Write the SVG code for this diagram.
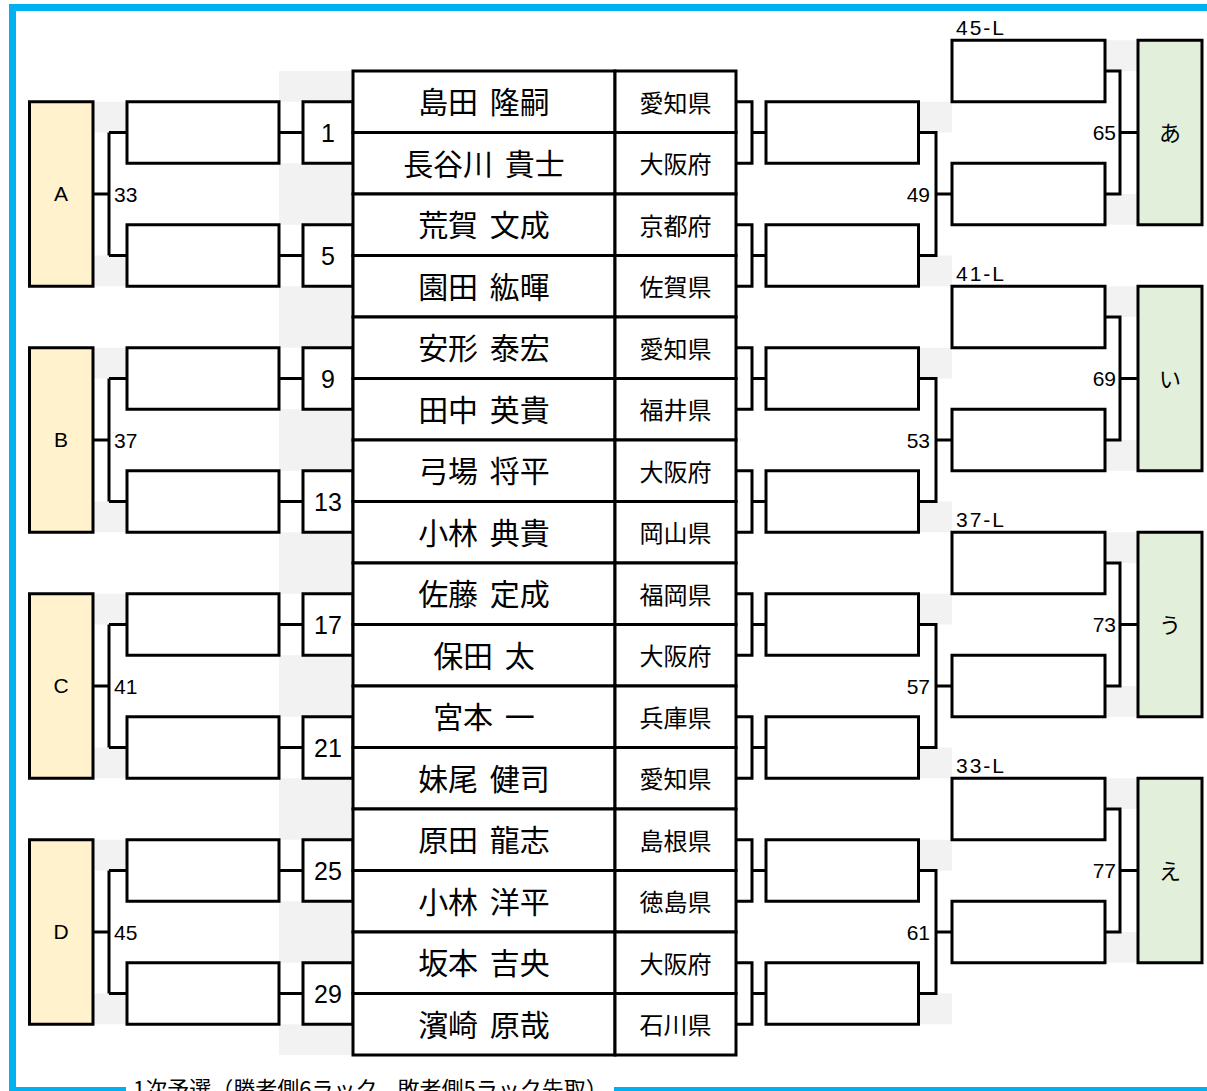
<svg xmlns="http://www.w3.org/2000/svg" width="1207" height="1091" viewBox="0 0 1207 1091">
<style>
.b{fill:#fff;stroke:#000;stroke-width:3}
.y{fill:#FFF2CC;stroke:#000;stroke-width:3}
.gr{fill:#E2EFDA;stroke:#000;stroke-width:3}
.sh{fill:#F2F2F2}
.c{fill:none;stroke:#000;stroke-width:3}
.blue{fill:#00B0F0}
.lat{font-family:"Liberation Sans",Arial,sans-serif;fill:#000}
.s{font-size:21px}
.ls{letter-spacing:2px}
.n{font-size:25px;text-anchor:middle}
.m{text-anchor:middle}
.e{text-anchor:end}
.jp{font-family:"Noto Sans CJK JP","Noto Sans",sans-serif;fill:#000}
.nm{font-size:30px;text-anchor:middle;word-spacing:5px}
.pf{font-size:24px;text-anchor:middle}
.kana{font-size:22px;text-anchor:middle}
.title{font-size:22px}
</style>
<rect x="0" y="0" width="1207" height="1091" fill="#fff"/>
<g id="shading">
<rect class="sh" x="279" y="71" width="74" height="30.75"/>
<rect class="sh" x="279" y="163.25" width="74" height="61.5"/>
<rect class="sh" x="279" y="286.25" width="74" height="61.5"/>
<rect class="sh" x="279" y="409.25" width="74" height="61.5"/>
<rect class="sh" x="279" y="532.25" width="74" height="61.5"/>
<rect class="sh" x="279" y="655.25" width="74" height="61.5"/>
<rect class="sh" x="279" y="778.25" width="74" height="61.5"/>
<rect class="sh" x="279" y="901.25" width="74" height="61.5"/>
<rect class="sh" x="279" y="1024.25" width="74" height="30.75"/>
<g id="shade-l0"><rect class="sh" x="93" y="101.75" width="34" height="30.75"/><rect class="sh" x="93" y="255.5" width="34" height="30.75"/><rect class="sh" x="918.5" y="101.75" width="33.5" height="30.75"/><rect class="sh" x="918.5" y="255.5" width="33.5" height="30.75"/><rect class="sh" x="1105" y="40.25" width="33" height="30.75"/><rect class="sh" x="1105" y="194" width="33" height="30.75"/></g>
<use href="#shade-l0" transform="translate(0,246)"/>
<use href="#shade-l0" transform="translate(0,492)"/>
<use href="#shade-l0" transform="translate(0,738)"/>
</g>
<g id="frame">
<rect class="blue" x="9" y="4" width="1198" height="7"/>
<rect class="blue" x="9" y="4" width="7" height="1087"/>
<rect class="blue" x="9" y="1087" width="117" height="4"/>
<rect class="blue" x="614" y="1087" width="593" height="4"/>
<text class="jp title" x="133" y="1097">1次予選（勝者側6ラック、敗者側5ラック先取）</text>
</g>
<g id="connectors">
<g id="conn-l0"><path class="c" d="M93,194H109M109,132.5V255.5M109,132.5H127M109,255.5H127M279,132.5H303M279,255.5H303"/><path class="c" d="M918.5,132.5H936V255.5H918.5M936,194H952M1105,71H1120V194H1105M1120,132.5H1138"/></g>
<use href="#conn-l0" transform="translate(0,246)"/>
<use href="#conn-l0" transform="translate(0,492)"/>
<use href="#conn-l0" transform="translate(0,738)"/>
<g id="br0"><path class="c" d="M736,101.75H752V163.25H736M752,132.5H766"/></g>
<use href="#br0" transform="translate(0,123)"/>
<use href="#br0" transform="translate(0,246)"/>
<use href="#br0" transform="translate(0,369)"/>
<use href="#br0" transform="translate(0,492)"/>
<use href="#br0" transform="translate(0,615)"/>
<use href="#br0" transform="translate(0,738)"/>
<use href="#br0" transform="translate(0,861)"/>
</g>
<g id="group-A"><rect class="y" x="29.5" y="101.75" width="63.5" height="184.5"/><text class="lat s m" x="61" y="201">A</text><text class="lat s" x="114" y="201.5">33</text></g>
<g id="group-B" transform="translate(0,246)"><rect class="y" x="29.5" y="101.75" width="63.5" height="184.5"/><text class="lat s m" x="61" y="201">B</text><text class="lat s" x="114" y="201.5">37</text></g>
<g id="group-C" transform="translate(0,492)"><rect class="y" x="29.5" y="101.75" width="63.5" height="184.5"/><text class="lat s m" x="61" y="201">C</text><text class="lat s" x="114" y="201.5">41</text></g>
<g id="group-D" transform="translate(0,738)"><rect class="y" x="29.5" y="101.75" width="63.5" height="184.5"/><text class="lat s m" x="61" y="201">D</text><text class="lat s" x="114" y="201.5">45</text></g>
<g id="left-slots">
<g id="ls0"><rect class="b" x="127" y="101.75" width="152" height="61.5"/><rect class="b" x="127" y="224.75" width="152" height="61.5"/></g>
<use href="#ls0" transform="translate(0,246)"/>
<use href="#ls0" transform="translate(0,492)"/>
<use href="#ls0" transform="translate(0,738)"/>
</g>
<g id="m1"><rect class="b" x="303" y="101.75" width="50" height="61.5"/><text class="lat n" x="328" y="141.5">1</text></g>
<g id="m5"><rect class="b" x="303" y="224.75" width="50" height="61.5"/><text class="lat n" x="328" y="264.5">5</text></g>
<g id="m9"><rect class="b" x="303" y="347.75" width="50" height="61.5"/><text class="lat n" x="328" y="387.5">9</text></g>
<g id="m13"><rect class="b" x="303" y="470.75" width="50" height="61.5"/><text class="lat n" x="328" y="510.5">13</text></g>
<g id="m17"><rect class="b" x="303" y="593.75" width="50" height="61.5"/><text class="lat n" x="328" y="633.5">17</text></g>
<g id="m21"><rect class="b" x="303" y="716.75" width="50" height="61.5"/><text class="lat n" x="328" y="756.5">21</text></g>
<g id="m25"><rect class="b" x="303" y="839.75" width="50" height="61.5"/><text class="lat n" x="328" y="879.5">25</text></g>
<g id="m29"><rect class="b" x="303" y="962.75" width="50" height="61.5"/><text class="lat n" x="328" y="1002.5">29</text></g>
<g id="table">
<g id="p1"><rect class="b" x="353" y="71" width="262" height="61.5"/><rect class="b" x="615" y="71" width="121" height="61.5"/><text class="jp nm" x="484" y="113.25">島田 隆嗣</text><text class="jp pf" x="675.5" y="111.75">愛知県</text></g>
<g id="p2"><rect class="b" x="353" y="132.5" width="262" height="61.5"/><rect class="b" x="615" y="132.5" width="121" height="61.5"/><text class="jp nm" x="484" y="174.75">長谷川 貴士</text><text class="jp pf" x="675.5" y="173.25">大阪府</text></g>
<g id="p3"><rect class="b" x="353" y="194" width="262" height="61.5"/><rect class="b" x="615" y="194" width="121" height="61.5"/><text class="jp nm" x="484" y="236.25">荒賀 文成</text><text class="jp pf" x="675.5" y="234.75">京都府</text></g>
<g id="p4"><rect class="b" x="353" y="255.5" width="262" height="61.5"/><rect class="b" x="615" y="255.5" width="121" height="61.5"/><text class="jp nm" x="484" y="297.75">園田 紘暉</text><text class="jp pf" x="675.5" y="296.25">佐賀県</text></g>
<g id="p5"><rect class="b" x="353" y="317" width="262" height="61.5"/><rect class="b" x="615" y="317" width="121" height="61.5"/><text class="jp nm" x="484" y="359.25">安形 泰宏</text><text class="jp pf" x="675.5" y="357.75">愛知県</text></g>
<g id="p6"><rect class="b" x="353" y="378.5" width="262" height="61.5"/><rect class="b" x="615" y="378.5" width="121" height="61.5"/><text class="jp nm" x="484" y="420.75">田中 英貴</text><text class="jp pf" x="675.5" y="419.25">福井県</text></g>
<g id="p7"><rect class="b" x="353" y="440" width="262" height="61.5"/><rect class="b" x="615" y="440" width="121" height="61.5"/><text class="jp nm" x="484" y="482.25">弓場 将平</text><text class="jp pf" x="675.5" y="480.75">大阪府</text></g>
<g id="p8"><rect class="b" x="353" y="501.5" width="262" height="61.5"/><rect class="b" x="615" y="501.5" width="121" height="61.5"/><text class="jp nm" x="484" y="543.75">小林 典貴</text><text class="jp pf" x="675.5" y="542.25">岡山県</text></g>
<g id="p9"><rect class="b" x="353" y="563" width="262" height="61.5"/><rect class="b" x="615" y="563" width="121" height="61.5"/><text class="jp nm" x="484" y="605.25">佐藤 定成</text><text class="jp pf" x="675.5" y="603.75">福岡県</text></g>
<g id="p10"><rect class="b" x="353" y="624.5" width="262" height="61.5"/><rect class="b" x="615" y="624.5" width="121" height="61.5"/><text class="jp nm" x="484" y="666.75">保田 太</text><text class="jp pf" x="675.5" y="665.25">大阪府</text></g>
<g id="p11"><rect class="b" x="353" y="686" width="262" height="61.5"/><rect class="b" x="615" y="686" width="121" height="61.5"/><text class="jp nm" x="484" y="728.25">宮本 一</text><text class="jp pf" x="675.5" y="726.75">兵庫県</text></g>
<g id="p12"><rect class="b" x="353" y="747.5" width="262" height="61.5"/><rect class="b" x="615" y="747.5" width="121" height="61.5"/><text class="jp nm" x="484" y="789.75">妹尾 健司</text><text class="jp pf" x="675.5" y="788.25">愛知県</text></g>
<g id="p13"><rect class="b" x="353" y="809" width="262" height="61.5"/><rect class="b" x="615" y="809" width="121" height="61.5"/><text class="jp nm" x="484" y="851.25">原田 龍志</text><text class="jp pf" x="675.5" y="849.75">島根県</text></g>
<g id="p14"><rect class="b" x="353" y="870.5" width="262" height="61.5"/><rect class="b" x="615" y="870.5" width="121" height="61.5"/><text class="jp nm" x="484" y="912.75">小林 洋平</text><text class="jp pf" x="675.5" y="911.25">徳島県</text></g>
<g id="p15"><rect class="b" x="353" y="932" width="262" height="61.5"/><rect class="b" x="615" y="932" width="121" height="61.5"/><text class="jp nm" x="484" y="974.25">坂本 吉央</text><text class="jp pf" x="675.5" y="972.75">大阪府</text></g>
<g id="p16"><rect class="b" x="353" y="993.5" width="262" height="61.5"/><rect class="b" x="615" y="993.5" width="121" height="61.5"/><text class="jp nm" x="484" y="1035.75">濱崎 原哉</text><text class="jp pf" x="675.5" y="1034.25">石川県</text></g>
</g>
<g id="right-1" transform="translate(0,0)"><rect class="b" x="766" y="101.75" width="152.5" height="61.5"/><rect class="b" x="766" y="224.75" width="152.5" height="61.5"/><text class="lat s e" x="930" y="201.5">49</text><rect class="b" x="952" y="40.25" width="153" height="61.5"/><rect class="b" x="952" y="163.25" width="153" height="61.5"/><text class="lat s e" x="1116" y="140">65</text><text class="lat s ls" x="956" y="35">45-L</text><rect class="gr" x="1138" y="40.25" width="64" height="184.5"/><text class="jp kana" x="1170" y="141">あ</text></g>
<g id="right-2" transform="translate(0,246)"><rect class="b" x="766" y="101.75" width="152.5" height="61.5"/><rect class="b" x="766" y="224.75" width="152.5" height="61.5"/><text class="lat s e" x="930" y="201.5">53</text><rect class="b" x="952" y="40.25" width="153" height="61.5"/><rect class="b" x="952" y="163.25" width="153" height="61.5"/><text class="lat s e" x="1116" y="140">69</text><text class="lat s ls" x="956" y="35">41-L</text><rect class="gr" x="1138" y="40.25" width="64" height="184.5"/><text class="jp kana" x="1170" y="141">い</text></g>
<g id="right-3" transform="translate(0,492)"><rect class="b" x="766" y="101.75" width="152.5" height="61.5"/><rect class="b" x="766" y="224.75" width="152.5" height="61.5"/><text class="lat s e" x="930" y="201.5">57</text><rect class="b" x="952" y="40.25" width="153" height="61.5"/><rect class="b" x="952" y="163.25" width="153" height="61.5"/><text class="lat s e" x="1116" y="140">73</text><text class="lat s ls" x="956" y="35">37-L</text><rect class="gr" x="1138" y="40.25" width="64" height="184.5"/><text class="jp kana" x="1170" y="141">う</text></g>
<g id="right-4" transform="translate(0,738)"><rect class="b" x="766" y="101.75" width="152.5" height="61.5"/><rect class="b" x="766" y="224.75" width="152.5" height="61.5"/><text class="lat s e" x="930" y="201.5">61</text><rect class="b" x="952" y="40.25" width="153" height="61.5"/><rect class="b" x="952" y="163.25" width="153" height="61.5"/><text class="lat s e" x="1116" y="140">77</text><text class="lat s ls" x="956" y="35">33-L</text><rect class="gr" x="1138" y="40.25" width="64" height="184.5"/><text class="jp kana" x="1170" y="141">え</text></g>
</svg>
